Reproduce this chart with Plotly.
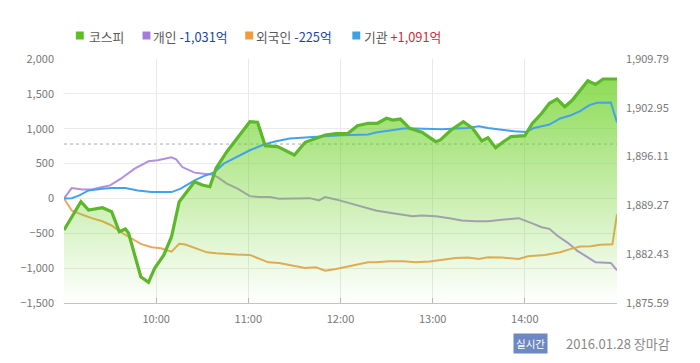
import plotly.graph_objects as go

DATE = "2016-01-28 "

# KOSPI index (right axis)
kospi_t = ["09:00","09:11","09:16","09:25","09:31","09:36","09:40","09:42","09:50","09:55","09:59","10:05","10:10","10:15","10:25","10:30","10:35","10:39","10:46","10:51","10:57","11:01","11:06","11:11","11:19","11:26","11:30","11:37","11:44","11:50","11:57","12:05","12:11","12:18","12:24","12:30","12:34","12:39","12:45","12:53","13:02","13:05","13:12","13:20","13:26","13:32","13:36","13:41","13:46","13:51","14:00","14:05","14:11","14:16","14:21","14:26","14:31","14:36","14:41","14:46","14:51","15:00"]
kospi_v = [1885.82,1889.79,1888.63,1888.95,1888.39,1885.58,1885.96,1885.40,1879.28,1878.49,1880.45,1882.32,1884.88,1889.79,1892.59,1892.13,1891.89,1894.47,1896.80,1898.20,1899.70,1901.00,1900.92,1897.64,1897.50,1896.80,1896.33,1898.11,1898.68,1899.14,1899.32,1899.38,1900.44,1900.78,1900.78,1901.48,1901.24,1901.38,1900.08,1899.52,1898.20,1898.44,1899.84,1901.00,1900.08,1898.30,1898.76,1897.36,1898.20,1898.90,1899.04,1900.78,1902.18,1903.58,1904.18,1903.10,1904.04,1905.45,1906.75,1906.24,1906.99,1906.99]
prev_close = 1897.87

# 개인 (individuals), 억원
indiv_t = ["09:00","09:05","09:12","09:18","09:25","09:30","09:37","09:46","09:55","10:01","10:10","10:13","10:17","10:25","10:31","10:37","10:40","10:46","10:53","11:01","11:07","11:14","11:20","11:29","11:40","11:46","11:50","11:57","12:05","12:12","12:18","12:23","12:32","12:41","12:47","12:53","13:02","13:11","13:19","13:28","13:36","13:45","13:56","14:04","14:11","14:16","14:21","14:28","14:34","14:41","14:46","14:56","15:00"]
indiv_v = [0,148,129,129,163,187,283,427,532,547,590,561,450,370,355,338,306,212,140,33,19,19,-4,-4,4,-29,19,-14,-62,-111,-137,-173,-206,-235,-255,-245,-255,-283,-317,-327,-327,-306,-283,-350,-413,-436,-532,-637,-748,-845,-917,-925,-1031]

# 외국인 (foreigners), 억원
foreign_t = ["09:00","09:05","09:12","09:18","09:25","09:31","09:37","09:44","09:50","09:57","10:03","10:10","10:15","10:19","10:27","10:33","10:39","10:44","10:52","11:01","11:07","11:13","11:20","11:29","11:37","11:44","11:50","11:57","12:05","12:12","12:18","12:23","12:32","12:41","12:49","12:58","13:06","13:15","13:23","13:30","13:36","13:45","13:56","14:02","14:13","14:23","14:30","14:36","14:43","14:49","14:57","15:00"]
foreign_v = [0,-173,-235,-283,-327,-388,-485,-580,-652,-701,-715,-763,-652,-662,-724,-773,-787,-796,-806,-810,-868,-917,-925,-964,-997,-988,-1036,-1011,-974,-940,-914,-916,-902,-902,-916,-906,-882,-853,-849,-868,-845,-849,-868,-830,-810,-773,-724,-691,-686,-666,-658,-225]

# 기관 (institutions), 억원
inst_t = ["09:00","09:05","09:10","09:16","09:25","09:31","09:40","09:48","09:57","10:10","10:16","10:25","10:31","10:38","10:44","10:52","11:01","11:10","11:18","11:27","11:35","11:44","11:52","12:01","12:10","12:18","12:23","12:32","12:41","12:49","12:58","13:06","13:15","13:23","13:30","13:36","13:45","13:53","14:01","14:06","14:16","14:23","14:30","14:36","14:42","14:47","14:56","15:00"]
inst_v = [0,4,43,115,140,148,148,115,91,91,140,259,321,378,499,594,691,773,820,859,873,882,896,906,917,917,945,978,1003,1003,993,993,1003,1011,1036,1011,986,964,954,1011,1060,1147,1194,1252,1338,1371,1377,1091]

# axes
x_ticks = ["09:00","10:00","11:00","12:00","13:00","14:00","15:00"]
x_ticktext = ["","10:00","11:00","12:00","13:00","14:00",""]
left_range = [-1500, 2000]
right_ticks = [1875.59, 1882.43, 1889.27, 1896.11, 1902.95, 1909.79]

# legend
legend_items = [
    ("코스피", None, "#5cbf22"),
    ("개인", "-1,031억", "#a57ad8"),
    ("외국인", "-225억", "#f39a3c"),
    ("기관", "+1,091억", "#3ea0ea"),
]
NEG = "#21459e"
POS = "#cc2a3c"

FONT = "Noto Sans CJK KR"

def ts(lst):
    return [DATE + t for t in lst]

fig = go.Figure()

# layer order: y (purple, orange) < y2 (kospi fill) < y3 (blue) < y4 (kospi line)
fig.add_trace(go.Scatter(x=ts(indiv_t), y=indiv_v, mode="lines",
                         line=dict(color="#b48ee0", width=2), showlegend=False, yaxis="y"))
fig.add_trace(go.Scatter(x=ts(foreign_t), y=foreign_v, mode="lines",
                         line=dict(color="#f2a55a", width=2), showlegend=False, yaxis="y"))
fig.add_trace(go.Scatter(x=ts(kospi_t), y=kospi_v, mode="lines", yaxis="y2",
                         line=dict(width=0, color="rgba(0,0,0,0)"), fill="tozeroy",
                         fillgradient=dict(type="vertical",
                                           colorscale=[[0, "rgba(110,210,40,0.0)"],
                                                       [1, "rgba(110,210,40,0.85)"]],
                                           start=right_ticks[0], stop=right_ticks[-1]),
                         showlegend=False))
fig.add_trace(go.Scatter(x=ts(inst_t), y=inst_v, mode="lines",
                         line=dict(color="#44a2ea", width=2), showlegend=False, yaxis="y3"))
fig.add_trace(go.Scatter(x=ts(kospi_t), y=kospi_v, mode="lines", yaxis="y4",
                         line=dict(color="#5cb82a", width=3.2), showlegend=False))

fig.add_shape(type="line", xref="paper", x0=0, x1=1, yref="y2", y0=prev_close, y1=prev_close,
              line=dict(color="#aaaaaa", width=1, dash="dot"), layer="below")

# page body has an 8px default margin; compensate so the plot lands where intended
OFF = 8
W, H = 700 - OFF, 363 - OFF
L, T = 57 - OFF, 59 - OFF
PW, PH = 560, 244
R, B = W - L - PW, H - T - PH

def px(x):
    return (x - OFF - L) / PW

def py(y):
    return (T + PH - (y - OFF)) / PH

ann = []
sq_x = [73, 140.5, 244.5, 353]
tx_x = [80, 145, 249, 359]
for (lab, num, col), sx, tx in zip(legend_items, sq_x, tx_x):
    fig.add_shape(type="rect", xref="paper", yref="paper",
                  x0=px(sx - 4), x1=px(sx + 4), y0=py(39.5), y1=py(31.5),
                  fillcolor=col, line=dict(width=0))
    text = lab
    if num:
        c = POS if num.startswith("+") else NEG
        text += f" <span style='color:{c}'>{num}</span>"
    ann.append(dict(text=text, x=px(tx), y=py(36), xref="paper", yref="paper",
                    xanchor="left", yanchor="middle", showarrow=False,
                    font=dict(family=FONT, size=12.8, color="#5a5a5a")))

ann.append(dict(text="실시간", x=px(529), y=py(343), xref="paper", yref="paper",
                xanchor="center", yanchor="middle", showarrow=False, bgcolor="#6d88c2",
                borderpad=2, font=dict(family=FONT, size=10.5, color="#ffffff")))
ann.append(dict(text="2016.01.28 장마감", x=px(563), y=py(343), xref="paper", yref="paper",
                xanchor="left", yanchor="middle", showarrow=False,
                font=dict(family=FONT, size=13, color="#888888")))

hidden = dict(overlaying="y", showgrid=False, zeroline=False, showline=False,
              showticklabels=False, ticks="")

fig.update_layout(
    width=W, height=H,
    margin=dict(l=L, r=R, t=T, b=B),
    paper_bgcolor="white", plot_bgcolor="white",
    font=dict(family=FONT, size=11, color="#777777"),
    showlegend=False,
    annotations=ann,
    xaxis=dict(type="date", range=[DATE + "09:00", DATE + "15:00"],
               tickvals=ts(x_ticks), ticktext=x_ticktext,
               showgrid=True, gridcolor="#e9e9e9", gridwidth=1,
               showline=True, linecolor="#c4c4c4", linewidth=1,
               ticks="inside", ticklen=5, tickcolor="#b8b8b8",
               ticklabelstandoff=6, zeroline=False,
               tickfont=dict(size=11, color="#777777")),
    yaxis=dict(range=left_range, dtick=500, tick0=0, tickformat=",",
               showgrid=True, gridcolor="#ebebeb", zeroline=False,
               showline=False, ticks="", ticklabelstandoff=9,
               tickfont=dict(size=11, color="#777777")),
    yaxis2=dict(range=[right_ticks[0], right_ticks[-1]], overlaying="y", side="right",
                tickvals=right_ticks, ticktext=[f"{v:,.2f}" for v in right_ticks],
                showgrid=False, zeroline=False, showline=False, ticks="",
                ticklabelstandoff=8, tickfont=dict(size=11, color="#777777")),
    yaxis3=dict(range=left_range, **hidden),
    yaxis4=dict(range=[right_ticks[0], right_ticks[-1]], **hidden),
)

fig.write_html("out.html")
